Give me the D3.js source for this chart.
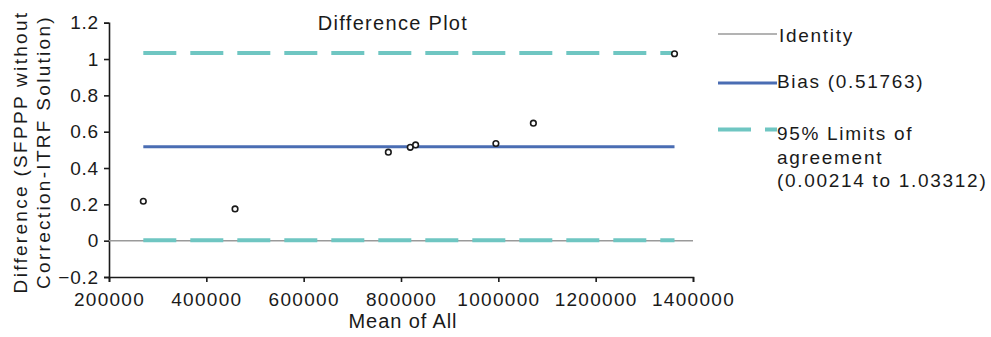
<!DOCTYPE html>
<html>
<head>
<meta charset="utf-8">
<script src="https://cdnjs.cloudflare.com/ajax/libs/d3/7.8.5/d3.min.js"></script>
<style>
  body { margin: 0; background: #fff; }
  text { font-family: "Liberation Sans", Arial, sans-serif; fill: #1a1a1a; }
  .tick text { font-size: 19px; }
</style>
</head>
<body>
<div id="chart"></div>
<script>
// data
var meanOfAll = [270500, 459000, 774000, 819000, 830000, 995000, 1072000, 1362000];
var difference = [0.217, 0.175, 0.487, 0.514, 0.527, 0.535, 0.647, 1.029];
var bias = 0.51763;
var limits = [0.00214, 1.03312];
var xTicks = [200000, 400000, 600000, 800000, 1000000, 1200000, 1400000];
var yTicks = [-0.2, 0, 0.2, 0.4, 0.6, 0.8, 1, 1.2];
var legendLabels = ["Identity", "Bias (0.51763)", "95% Limits of", "agreement", "(0.00214 to 1.03312)"];

var svgWidth = 991, svgHeight = 337;

var svg = d3.select("#chart").append("svg")
    .attr("width", svgWidth).attr("height", svgHeight);

// plot area
var xScale = d3.scaleLinear().domain([200000, 1400000]).range([109, 693]);
var yScale = d3.scaleLinear().domain([-0.2, 1.2]).range([277, 22.7]);

var xAxis = d3.axisBottom(xScale).tickValues(xTicks).tickFormat(d3.format("d")).tickSizeInner(5).tickSizeOuter(5).tickPadding(11);
var yAxis = d3.axisLeft(yScale).tickValues(yTicks).tickFormat(d => d3.format("")(+d.toFixed(1))).tickSizeInner(5).tickSizeOuter(5).tickPadding(5);

var gx = svg.append("g").attr("transform", "translate(0," + yScale(-0.2) + ")").call(xAxis);
var gy = svg.append("g").attr("transform", "translate(" + xScale(200000) + ",0)").call(yAxis);
[gx, gy].forEach(g => {
    g.selectAll("path, line").attr("stroke", "#1a1a1a").attr("stroke-width", 1.6);
    g.selectAll("text").attr("fill", "#1a1a1a");
});
gx.selectAll("text").style("letter-spacing", "1.3px");
gy.selectAll("text").style("letter-spacing", "0.8px");

var xMin = d3.min(meanOfAll), xMax = d3.max(meanOfAll);

// identity line at 0
svg.append("line")
    .attr("x1", xScale(200000)).attr("x2", xScale(1400000))
    .attr("y1", yScale(0)).attr("y2", yScale(0))
    .attr("stroke", "#9a9a9a").attr("stroke-width", 1.5);

// limits of agreement
limits.forEach(v => {
    svg.append("line")
        .attr("x1", xScale(xMin)).attr("x2", xScale(xMax))
        .attr("y1", yScale(v)).attr("y2", yScale(v))
        .attr("stroke", "#6fc6c2").attr("stroke-width", 4)
        .attr("stroke-dasharray", "33,14");
});

// bias
svg.append("line")
    .attr("x1", xScale(xMin)).attr("x2", xScale(xMax))
    .attr("y1", yScale(bias)).attr("y2", yScale(bias))
    .attr("stroke", "#4a6db3").attr("stroke-width", 3);

// points
svg.selectAll("circle.pt").data(meanOfAll).enter().append("circle")
    .attr("class", "pt")
    .attr("cx", d => xScale(d))
    .attr("cy", (d, i) => yScale(difference[i]))
    .attr("r", 2.8)
    .attr("fill", "#fff").attr("stroke", "#1a1a1a").attr("stroke-width", 1.6);

// title and axis labels
svg.append("text").attr("x", 393).attr("y", 30).attr("text-anchor", "middle")
    .style("font-size", "20px").style("letter-spacing", "1.3px").text("Difference Plot");
svg.append("text").attr("x", 403).attr("y", 328).attr("text-anchor", "middle")
    .style("font-size", "20px").style("letter-spacing", "0.9px").text("Mean of All");

var yLab = svg.append("text").attr("transform", "translate(0,152) rotate(-90)")
    .attr("text-anchor", "middle").style("font-size", "19px").style("letter-spacing", "2.3px");
yLab.append("tspan").attr("x", 0).attr("y", 27).text("Difference (SFPPP without");
yLab.append("tspan").attr("x", 0).attr("y", 50).text("Correction-ITRF Solution)");

// legend
var legend = svg.append("g");
legend.append("line").attr("x1", 718).attr("x2", 777).attr("y1", 34).attr("y2", 34)
    .attr("stroke", "#9a9a9a").attr("stroke-width", 1.5);
legend.append("line").attr("x1", 718).attr("x2", 777).attr("y1", 83).attr("y2", 83)
    .attr("stroke", "#4a6db3").attr("stroke-width", 3);
legend.append("line").attr("x1", 718).attr("x2", 777).attr("y1", 129.5).attr("y2", 129.5)
    .attr("stroke", "#6fc6c2").attr("stroke-width", 4).attr("stroke-dasharray", "33,14");

var legendY = [41.5, 87.5, 139.5, 163.5, 187];
legend.selectAll("text").data(legendLabels).enter().append("text")
    .attr("x", (d, i) => i == 0 ? 779 : 777)
    .attr("y", (d, i) => legendY[i])
    .style("font-size", "19px").style("letter-spacing", "1.7px")
    .text(d => d);
</script>
</body>
</html>
